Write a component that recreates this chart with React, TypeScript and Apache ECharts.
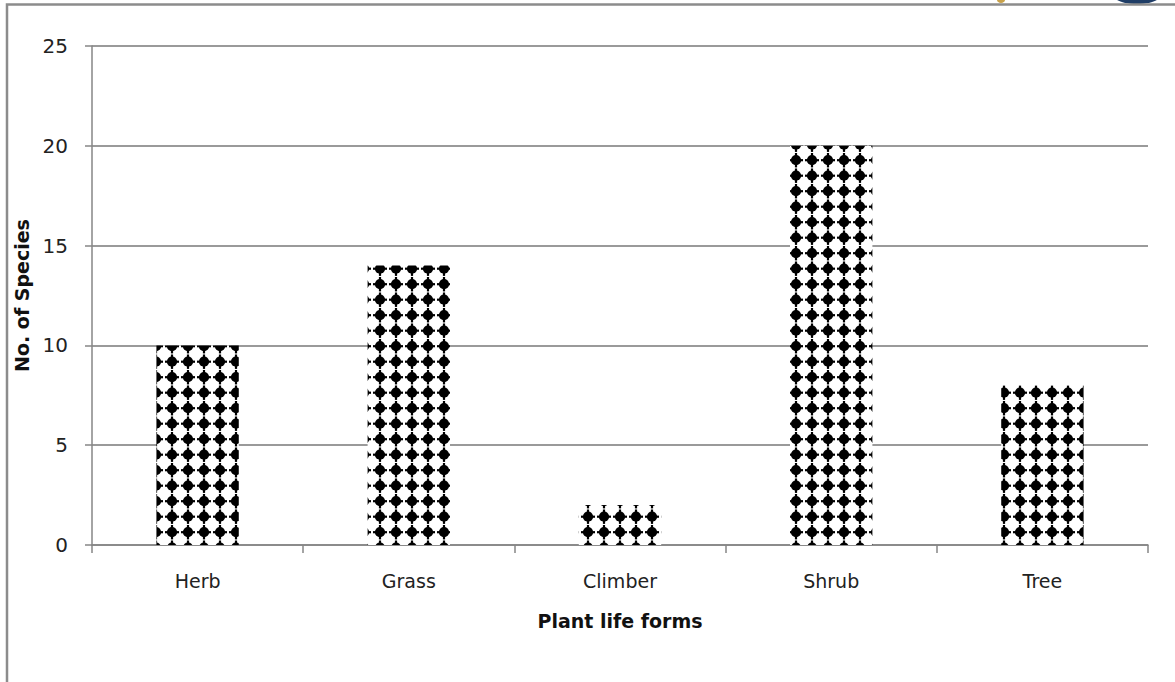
import React, { useEffect, useRef } from "react";
import * as echarts from "echarts";

const categories = ["Herb", "Grass", "Climber", "Shrub", "Tree"];
const speciesCounts = [10, 14, 2, 20, 8];
const yTicks = [0, 5, 10, 15, 20, 25];
const xAxisTitle = "Plant life forms";
const yAxisTitle = "No. of Species";

function makePattern(): HTMLCanvasElement {
  const c = document.createElement("canvas");
  c.width = 16;
  c.height = 31;
  const ctx = c.getContext("2d")!;
  ctx.fillStyle = "#ffffff";
  ctx.fillRect(0, 0, 16, 31);
  ctx.fillStyle = "#000000";
  const drawDot = (cx: number, cy: number) => {
    ctx.beginPath();
    ctx.arc(cx, cy, 5.1, 0, Math.PI * 2);
    ctx.fill();
    ctx.fillRect(cx - 7, cy - 1.1, 14, 2.2);
    ctx.fillRect(cx - 1.1, cy - 7.2, 2.2, 14.4);
  };
  for (const cy of [5.2, 20.7, 36.2, -10.3]) {
    for (const cx of [12, -4, 28]) drawDot(cx, cy);
  }
  return c;
}

export default function App() {
  const ref = useRef<HTMLDivElement>(null);
  useEffect(() => {
    if (!ref.current) return;
    const chart = echarts.init(ref.current, null, { renderer: "svg" });
    const pattern = makePattern();
    const axisGray = "#868686";
    chart.setOption({
      animation: false,
      backgroundColor: "#ffffff",
      grid: { left: 92, right: 27, top: 46, bottom: 137, containLabel: false },
      xAxis: {
        type: "category",
        data: categories,
        name: xAxisTitle,
        nameLocation: "middle",
        nameGap: 66,
        nameTextStyle: {
          fontFamily: "DejaVu Sans",
          fontWeight: "bold",
          fontSize: 19,
          color: "#111",
        },
        axisLine: { lineStyle: { color: axisGray, width: 1.5 } },
        axisTick: {
          show: true,
          alignWithLabel: false,
          length: 8,
          lineStyle: { color: axisGray, width: 1.5 },
        },
        axisLabel: {
          margin: 26,
          fontFamily: "DejaVu Sans",
          fontSize: 19,
          color: "#222",
        },
      },
      yAxis: {
        type: "value",
        min: 0,
        max: 25,
        interval: 5,
        name: yAxisTitle,
        nameLocation: "middle",
        nameGap: 54,
        nameTextStyle: {
          fontFamily: "DejaVu Sans",
          fontWeight: "bold",
          fontSize: 19,
          color: "#111",
        },
        axisLine: { show: true, lineStyle: { color: axisGray, width: 1.5 } },
        axisTick: {
          show: true,
          length: 7,
          lineStyle: { color: axisGray, width: 1.5 },
        },
        axisLabel: {
          margin: 24,
          fontFamily: "DejaVu Sans",
          fontSize: 20,
          color: "#222",
          formatter: (v: number) => (yTicks.includes(v) ? String(v) : ""),
        },
        splitLine: { show: true, lineStyle: { color: "#9a9a9a", width: 2 } },
      },
      series: [
        {
          type: "bar",
          data: speciesCounts,
          barWidth: "39%",
          itemStyle: {
            color: { image: pattern, repeat: "repeat" },
          },
        },
      ],
      graphic: [
        {
          type: "polyline",
          shape: { points: [[7, 682], [7, 4.5], [1175, 4.5]] },
          style: { stroke: "#8c8c8c", lineWidth: 2.5, fill: null },
          z: 10,
        },
        {
          type: "ellipse",
          shape: { cx: 1137, cy: -3, rx: 22, ry: 7 },
          style: { fill: "#1f3d66" },
          z: 9,
        },
        {
          type: "ellipse",
          shape: { cx: 1001, cy: 0, rx: 4, ry: 3 },
          style: { fill: "#c9a24a" },
          z: 9,
        },
      ],
    });
    return () => chart.dispose();
  }, []);
  return (
    <div
      ref={ref}
      style={{ position: "absolute", left: 0, top: 0, width: 1175, height: 682 }}
    />
  );
}
